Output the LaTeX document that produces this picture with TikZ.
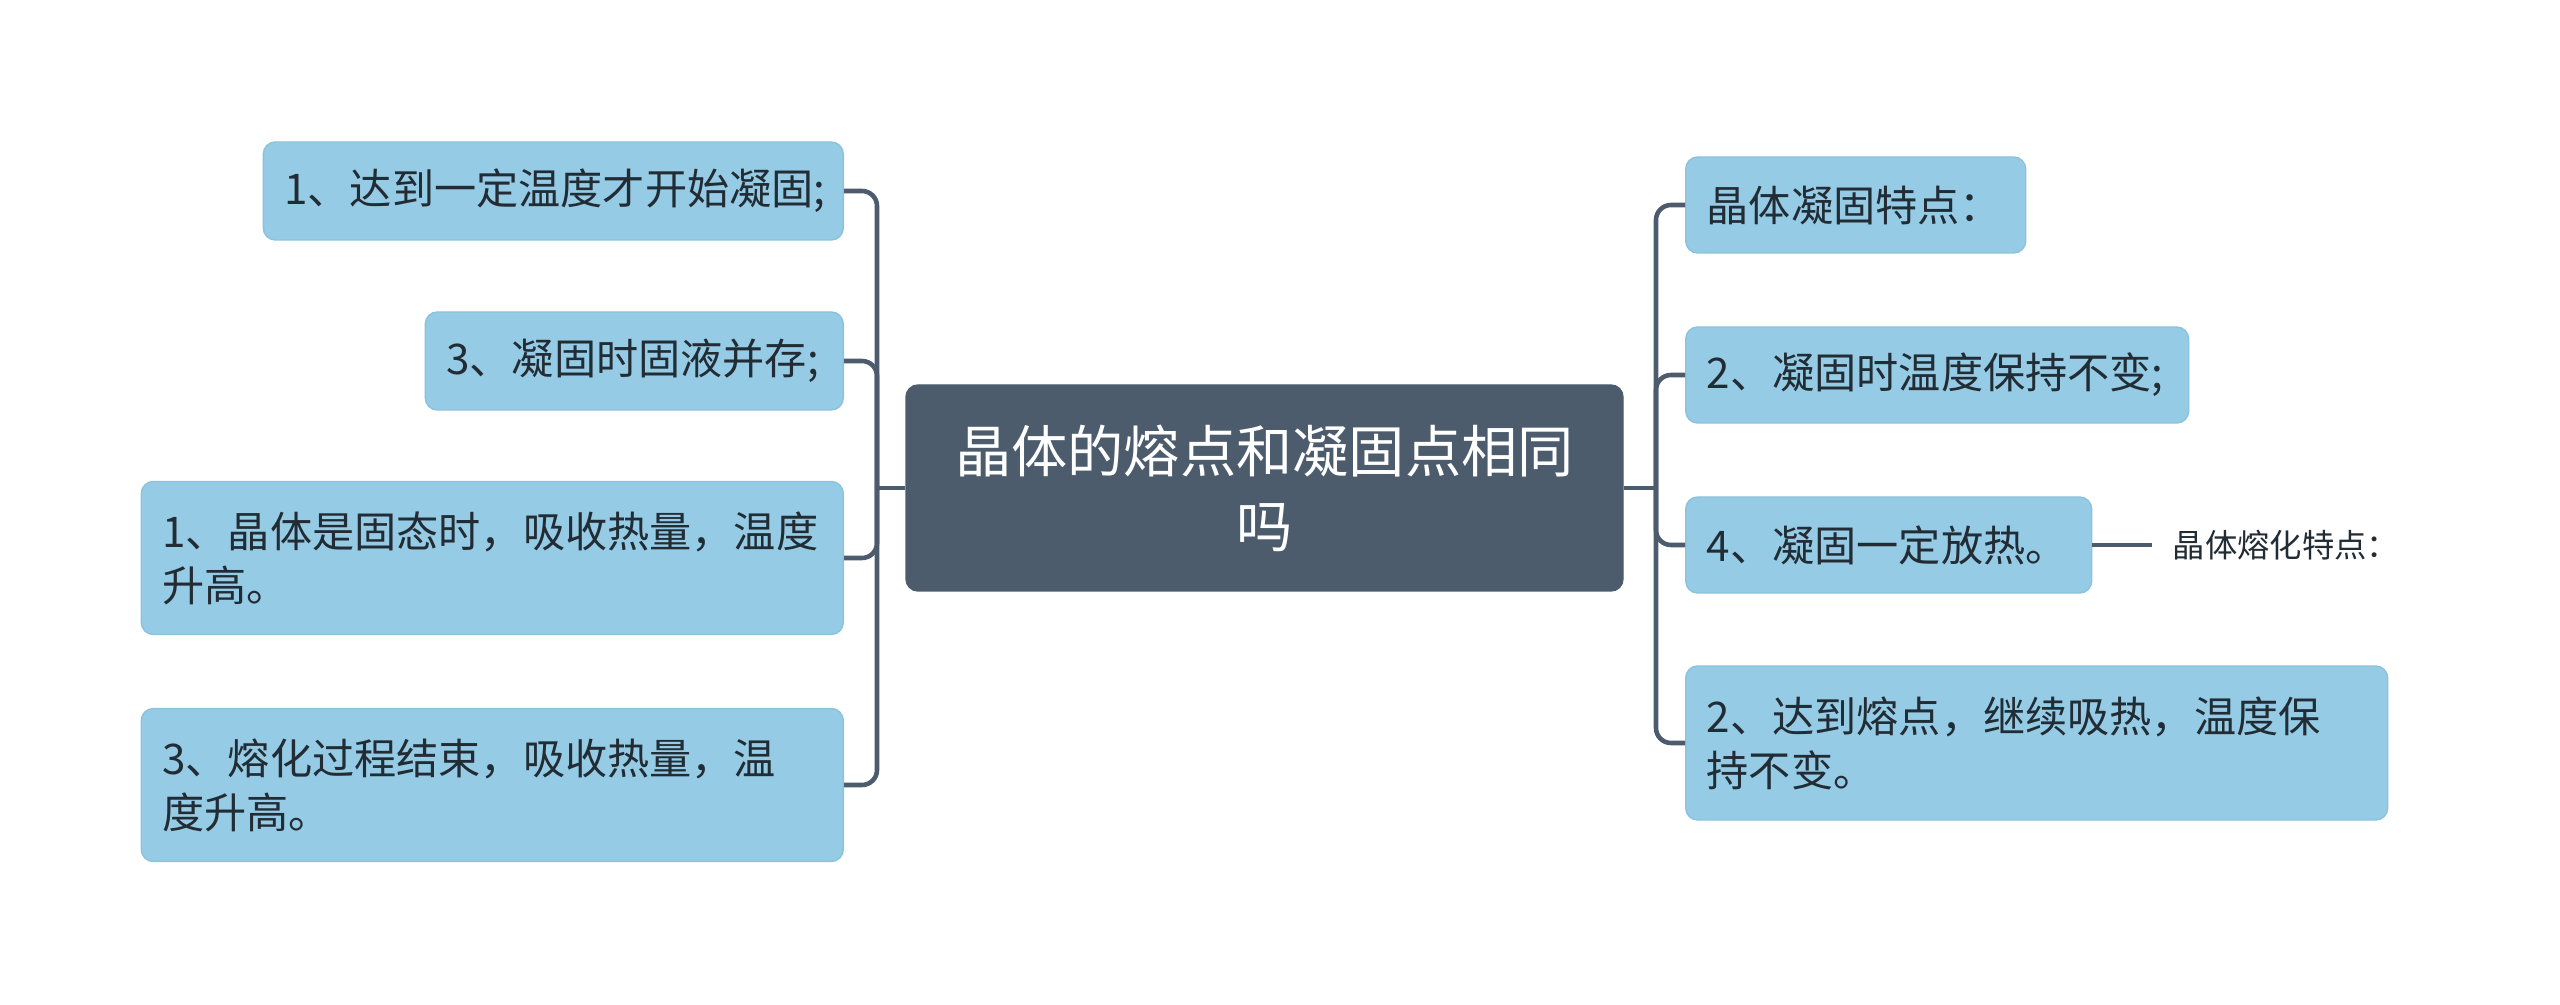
\documentclass[tikz,border=0pt]{standalone}
\usepackage{fontspec}
\setmainfont{Noto Sans CJK SC}
\definecolor{leafblue}{HTML}{95CBE4}
\definecolor{leafedge}{HTML}{8CC2DB}
\definecolor{slate}{HTML}{4C5C6C}
\definecolor{inkdark}{HTML}{222C35}
\begin{document}
\begin{tikzpicture}[x=1cm,y=-1cm,
  leaf/.style={draw=leafedge, line width=0.4pt, fill=leafblue, rounded corners=1.2mm, text=inkdark, align=left,
    font=\fontsize{12}{15.4}\selectfont, inner xsep=0.21cm, inner ysep=0pt},
  hub/.style={draw=slate, fill=slate, rounded corners=1.2mm, text=white, align=center,
    font=\fontsize{16}{21.3}\selectfont, minimum width=7.17cm, minimum height=2.06cm},
  link/.style={draw=slate, line width=1.3pt, rounded corners=1.5mm}]
\useasboundingbox (0,0) rectangle (25.6,10.05);

\node[hub] (core) at (12.645,4.88) {晶体的熔点和凝固点相同\\吗};

\node[leaf, anchor=east, text width=5.38cm, minimum height=0.98cm] (solidA) at (8.44,1.91) {1、达到一定温度才开始凝固;};
\node[leaf, anchor=east, text width=3.76cm, minimum height=0.98cm] (solidB) at (8.44,3.61) {3、凝固时固液并存;};
\node[leaf, anchor=east, text width=6.60cm, minimum height=1.53cm] (meltA) at (8.44,5.58) {1、晶体是固态时，吸收热量，温度\\升高。};
\node[leaf, anchor=east, text width=6.60cm, minimum height=1.53cm] (meltB) at (8.44,7.85) {3、熔化过程结束，吸收热量，温\\度升高。};

\node[leaf, anchor=west, text width=2.98cm, minimum height=0.96cm] (solidHead) at (16.85,2.05) {晶体凝固特点：};
\node[leaf, anchor=west, text width=4.61cm, minimum height=0.96cm] (solidC) at (16.85,3.75) {2、凝固时温度保持不变;};
\node[leaf, anchor=west, text width=3.64cm, minimum height=0.96cm] (solidD) at (16.85,5.45) {4、凝固一定放热。};
\node[leaf, anchor=west, text width=6.60cm, minimum height=1.54cm] (meltC) at (16.85,7.43) {2、达到熔点，继续吸热，温度保\\持不变。};

\node[anchor=west, text=inkdark, inner xsep=0.2cm, font=\fontsize{9.2}{11}\selectfont] (meltHead) at (21.52,5.45) {晶体熔化特点：};

\coordinate (ljoin) at (8.77,4.88);
\coordinate (rjoin) at (16.56,4.88);

\draw[link] (core.west) -- (ljoin);
\draw[link] (ljoin) |- (solidA.east);
\draw[link] (ljoin) |- (solidB.east);
\draw[link] (ljoin) |- (meltA.east);
\draw[link] (ljoin) |- (meltB.east);

\draw[link] (core.east) -- (rjoin);
\draw[link] (rjoin) |- (solidHead.west);
\draw[link] (rjoin) |- (solidC.west);
\draw[link] (rjoin) |- (solidD.west);
\draw[link] (rjoin) |- (meltC.west);

\draw[link] (solidD.east) -- (meltHead.west);
\end{tikzpicture}
\end{document}
